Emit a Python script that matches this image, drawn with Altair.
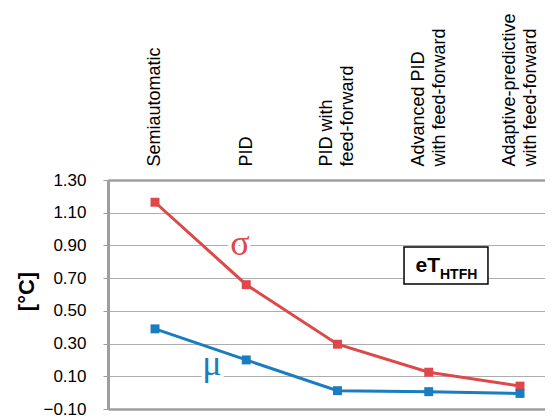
import json
import altair as alt
import pandas as pd

# ---- data ----
categories = [
    "Semiautomatic",
    "PID",
    "PID with|feed-forward",
    "Advanced PID|with feed-forward",
    "Adaptive-predictive|with feed-forward",
]
sigma = [1.164, 0.66, 0.296, 0.125, 0.04]
mu = [0.39, 0.20, 0.012, 0.006, -0.005]
series_names = ["σ", "μ"]
series_colors = ["#DE4848", "#1A7CC1"]
y_ticks = [-0.10, 0.10, 0.30, 0.50, 0.70, 0.90, 1.10, 1.30]

# annotation anchors (category index, value)
symbol_x = [0.93, 0.625]
symbol_y = [0.8415, 0.108]
box_x = [2.729]
box_x2 = [3.649]
box_y = [0.890]
box_y2 = [0.664]
sub_x = [3.123]
main_y = [0.7376]
sub_y = [0.6947]

rows = []
for i, c in enumerate(categories):
    rows.append({"idx": i, "cat": c, "value": sigma[i], "series": series_names[0]})
    rows.append({"idx": i, "cat": c, "value": mu[i], "series": series_names[1]})
df = pd.DataFrame(rows)

sym_df = pd.DataFrame({"x": symbol_x, "y": symbol_y, "t": series_names, "series": series_names})
box_df = pd.DataFrame({"x": box_x, "x2": box_x2, "y": box_y, "y2": box_y2})
main_df = pd.DataFrame({"x": sub_x, "y": main_y, "t": ["eT"]})
sub_df = pd.DataFrame({"x": sub_x, "y": sub_y, "t": ["HTFH"]})

cat_json = json.dumps(categories)
label_expr = "split(" + cat_json + "[datum.value], '|')"
two_line_test = "indexof(" + cat_json + "[datum.value], '|') >= 0"

xscale = alt.Scale(domain=[-0.515, 4.274], nice=False, zero=False)
yscale = alt.Scale(domain=[-0.1, 1.3], nice=False, zero=False)
cscale = alt.Scale(domain=series_names, range=series_colors)

x_enc = alt.X(
    "idx:Q",
    scale=xscale,
    axis=alt.Axis(
        orient="top",
        values=[0, 1, 2, 3, 4],
        tickCount=10,
        labelExpr=label_expr,
        labelAngle=270,
        labelAlign="left",
        labelBaseline="middle",
        labelFontSize=18,
        labelLineHeight=21,
        labelPadding=14,
        labelOffset={"condition": {"test": two_line_test, "value": -10.5}, "value": 0},
        labelFlush=False,
        labelOverlap=False,
        labelBound=False,
        labelColor="#000000",
        ticks=False,
        domain=True,
        domainColor="#9E9E9E",
        domainWidth=2.5,
        grid=False,
        title=None,
    ),
)
y_enc = alt.Y(
    "value:Q",
    scale=yscale,
    axis=alt.Axis(
        values=y_ticks,
        tickCount=20,
        format=".2f",
        grid=True,
        gridColor={"condition": {"test": "datum.value < -0.05", "value": "#9E9E9E"}, "value": "#ADADAD"},
        gridWidth={"condition": {"test": "datum.value < -0.05", "value": 2.5}, "value": 1},
        domain=True,
        domainColor="#9E9E9E",
        domainWidth=3,
        tickSize=5,
        tickColor="#9E9E9E",
        labelFontSize=17,
        labelPadding=17,
        labelColor="#000000",
        labelFlush=False,
        labelOverlap=False,
        title="[°C]",
        titleFontSize=22,
        titleFontWeight="bold",
        titleColor="#000000",
        titleAngle=270,
        titleX=-82,
        titleY=111,
        titleAlign="center",
        titleBaseline="middle",
    ),
)
color_enc = alt.Color("series:N", scale=cscale, legend=None)

base = alt.Chart(df)
lines = base.mark_line(strokeWidth=3).encode(x=x_enc, y=y_enc, color=color_enc, detail="series:N")
points = base.mark_point(shape="square", filled=True, size=80, opacity=1).encode(
    x="idx:Q", y="value:Q", color=color_enc
)

halo = alt.Chart(sym_df).mark_text(
    font="Liberation Serif", fontSize=36, align="center", baseline="alphabetic",
    fill="white", stroke="white", strokeWidth=7,
).encode(x="x:Q", y="y:Q", text="t:N")
symbols = alt.Chart(sym_df).mark_text(
    font="Liberation Serif", fontSize=36, align="center", baseline="alphabetic",
).encode(x="x:Q", y="y:Q", text="t:N", color=color_enc)

box = alt.Chart(box_df).mark_rect(fill="white", stroke="black", strokeWidth=1.5).encode(
    x="x:Q", x2="x2:Q", y="y:Q", y2="y2:Q"
)
main_txt = alt.Chart(main_df).mark_text(
    font="Liberation Sans", fontSize=21, fontWeight="bold", align="right",
    baseline="alphabetic", color="black",
).encode(x="x:Q", y="y:Q", text="t:N")
sub_txt = alt.Chart(sub_df).mark_text(
    font="Liberation Sans", fontSize=14, fontWeight="bold", align="left",
    baseline="alphabetic", color="black",
).encode(x="x:Q", y="y:Q", text="t:N")

chart = (
    alt.layer(lines, points, halo, symbols, box, main_txt, sub_txt)
    .properties(
        width=437,
        height=229,
        autosize=alt.AutoSizeParams(type="none"),
        padding={"left": 100, "top": 172, "right": 0, "bottom": 10},
        background="white",
    )
    .configure_view(stroke=None)
    .configure_axis(labelFont="Liberation Sans", titleFont="Liberation Sans")
)

chart.save("out.html", embed_options={"renderer": "svg", "actions": False})
